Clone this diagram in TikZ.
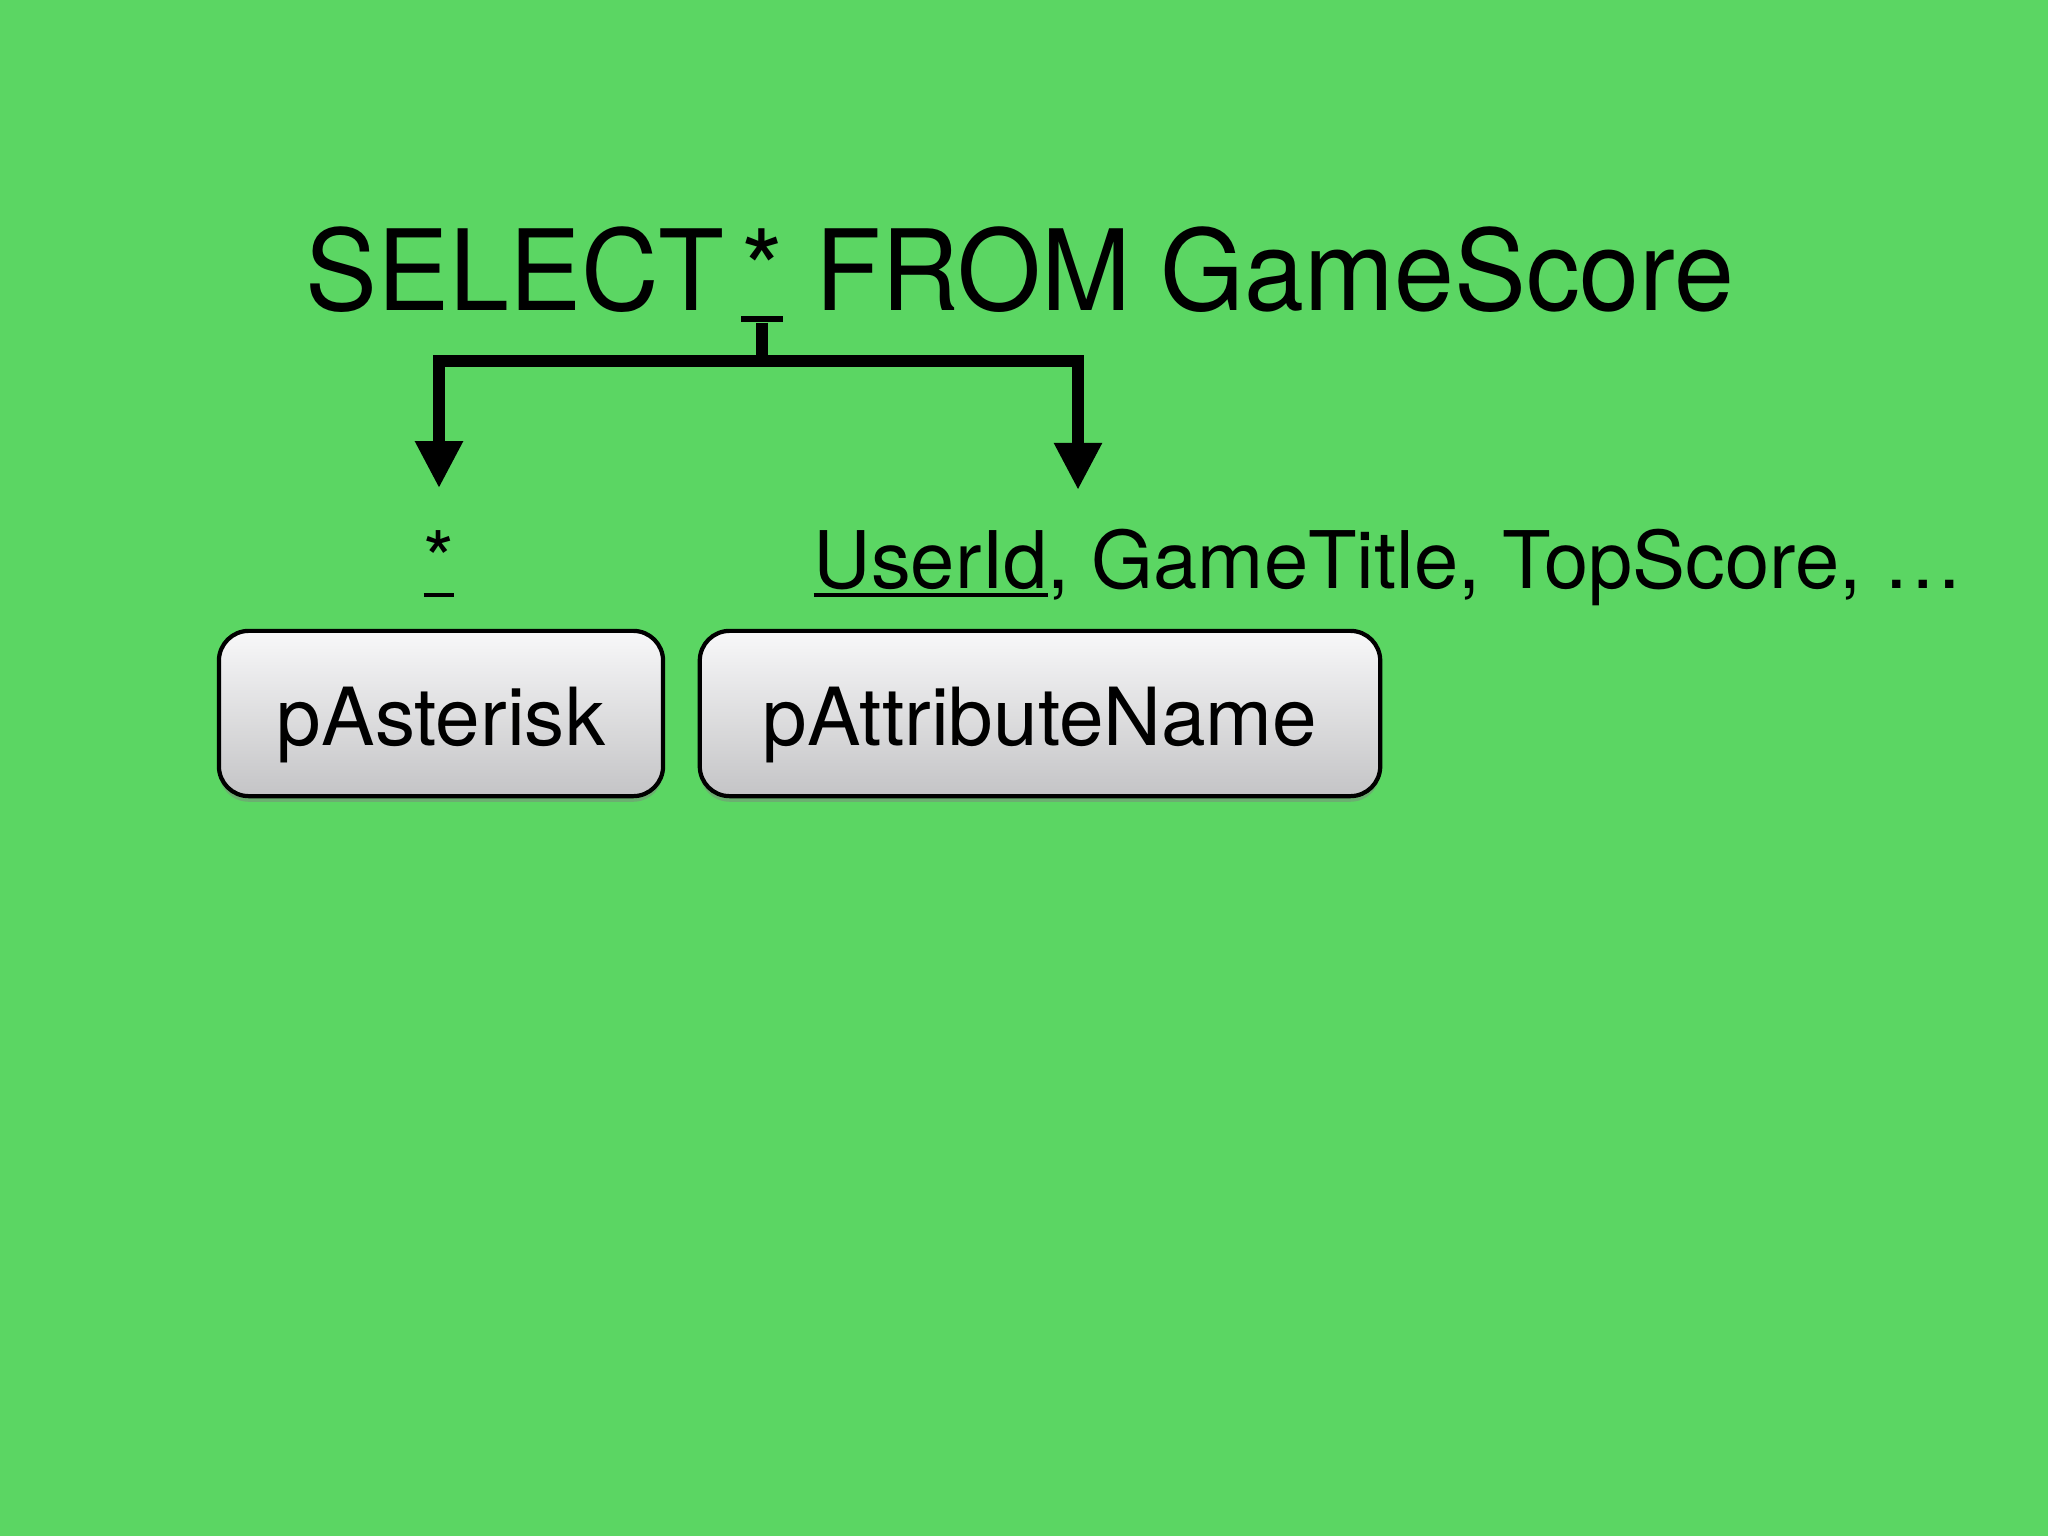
\documentclass[tikz,border=0pt]{standalone}
\usepackage{fontspec}
\usepackage{graphicx}
\setmainfont{TeX Gyre Heros}
\newfontfamily\titlefont[FakeStretch=0.96]{TeX Gyre Heros}
\usetikzlibrary{arrows.meta,shadows}

\definecolor{slidegreen}{RGB}{91,214,99}
\definecolor{keytop}{RGB}{248,248,249}
\definecolor{keybottom}{RGB}{196,196,198}

% underlined word: #1 = rule offset, #2 = rule thickness
\def\ulword#1#2#3{\setbox0\hbox{#3}\rlap{\rule[#1]{\wd0}{#2}}\box0}

\begin{document}
\begin{tikzpicture}[x=0.01cm, y=-0.01cm,
    title/.style={font=\titlefont\fontsize{31.9pt}{36pt}\selectfont, inner sep=0pt},
    attr/.style={font=\fontsize{22.6pt}{26pt}\selectfont, inner sep=0pt},
    key/.style={draw=black, line width=1.2pt, rounded corners=8.5pt,
      top color=keytop, bottom color=keybottom,
      minimum height=47pt, inner sep=0pt,
      font=\fontsize{22.8pt}{26pt}\selectfont, text height=18pt, text depth=0pt,
      drop shadow={shadow xshift=0pt, shadow yshift=-1.6pt, opacity=0.45}},
    branch/.style={draw=black, line width=3.3pt},
    tip/.style={-{Triangle[length=13.4pt,width=12.8pt]}}]

    % Slide background
    \fill[slidegreen] (0,0) rectangle (2048,1536);

    % Query line
    \node[title, anchor=base west] (select) at (305,310) {SELECT};
    \node[title, anchor=base] (selstar) at (762,310) {\ulword{-3.4pt}{1.7pt}{*}};
    \node[title, anchor=base west] (selfrom) at (815,310) {FROM GameScore};

    % Matched tokens
    \node[attr, anchor=base] (star) at (439,588) {\ulword{-2.6pt}{1.1pt}{*}};
    \node[attr, anchor=base west] (attrs) at (813,588)
      {\ulword{-2.6pt}{1.1pt}{UserId}, GameTitle, TopScore, …};

    % Parser rules
    \node[key, minimum width=126.3pt] (pasterisk) at (441,713.5) {pAsterisk};
    \node[key, minimum width=193.5pt] (pattr) at (1040,713.5) {pAttributeName};

    % Fork from the asterisk
    \coordinate (fork) at (selstar.south |- 0,361);
    \coordinate (rtip) at (1078,490);
    \draw[branch] (selstar.south) -- (fork);
    \draw[branch, tip, shorten >=11.7pt] (fork) -| (star.north);
    \draw[branch, tip] (fork) -| (rtip);
\end{tikzpicture}
\end{document}
